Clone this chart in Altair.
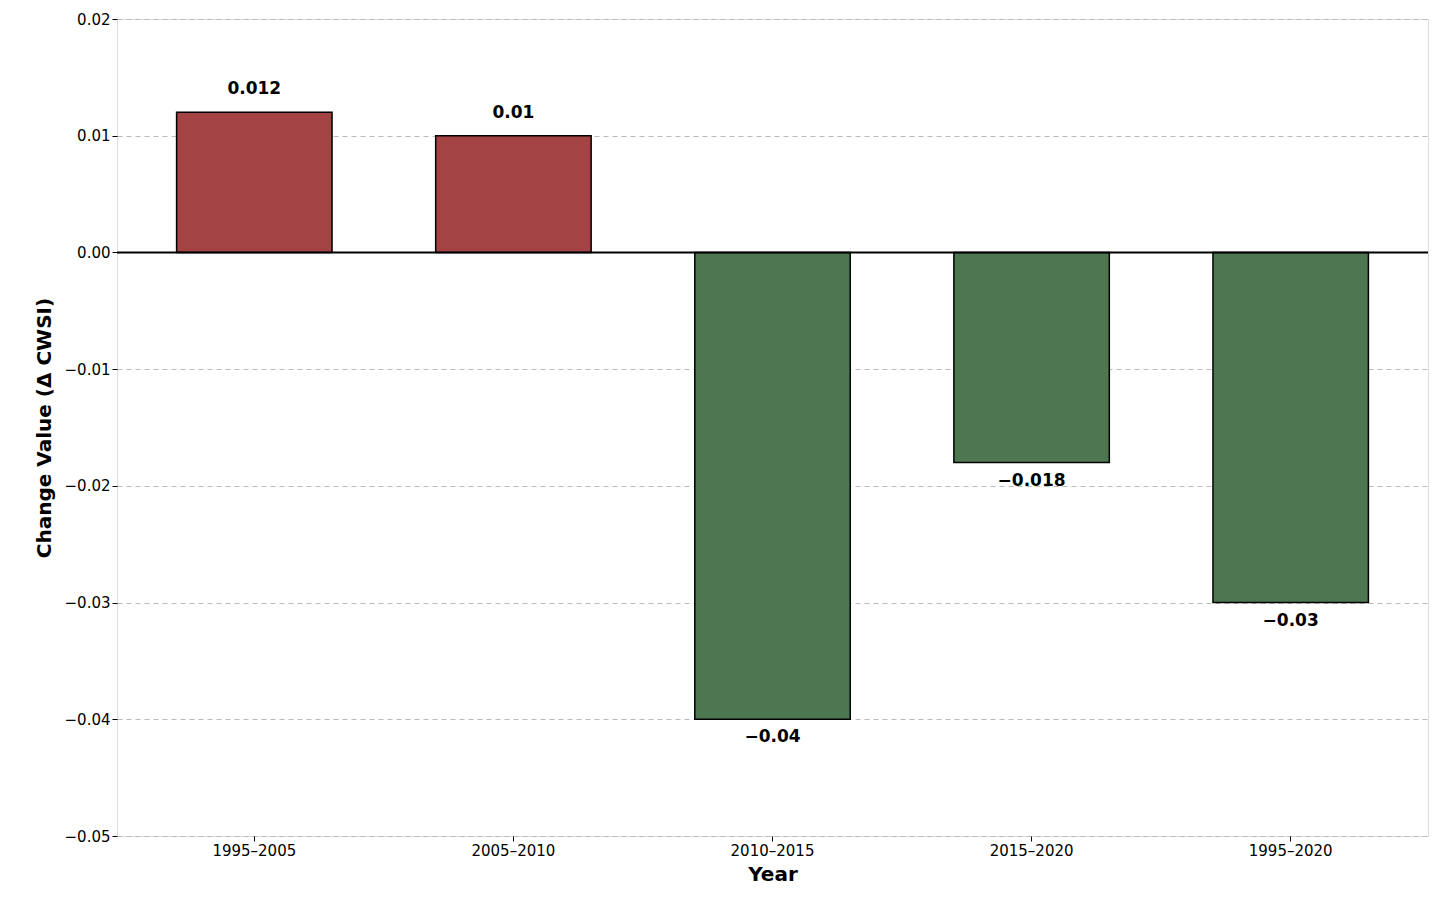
import altair as alt
import pandas as pd

periods = ["1995–2005", "2005–2010", "2010–2015", "2015–2020", "1995–2020"]
changes = [0.012, 0.01, -0.04, -0.018, -0.03]
labels = ["0.012", "0.01", "−0.04", "−0.018", "−0.03"]

df = pd.DataFrame({"Period": periods, "Change": changes, "Label": labels})
df["Sign"] = ["pos" if v > 0 else "neg" for v in changes]

x_enc = alt.X("Period:N", sort=periods, title="Year",
              scale=alt.Scale(paddingInner=0.4, paddingOuter=0.23),
              axis=alt.Axis(labelAngle=0, labelFontSize=15, titleFontSize=20,
                            titleFontWeight="bold", labelColor="black", titleColor="black",
                            tickColor="black", domain=False, titlePadding=6))

bars = alt.Chart(df).mark_bar(stroke="black", strokeWidth=1.5).encode(
    x=x_enc,
    y=alt.Y("Change:Q", title="Change Value (Δ CWSI)",
            scale=alt.Scale(domain=[-0.05, 0.02], nice=False),
            axis=alt.Axis(values=[-0.05, -0.04, -0.03, -0.02, -0.01, 0, 0.01, 0.02],
                          labelExpr="replace(format(datum.value, '.2f'), '-', '−')",
                          labelFontSize=15, titleFontSize=20, titleFontWeight="bold",
                          labelColor="black", titleColor="black", tickColor="black",
                          grid=True, gridDash=[5, 4], gridColor="#bbbbbb",
                          domain=False, titlePadding=10)),
    color=alt.Color("Sign:N", scale=alt.Scale(domain=["pos", "neg"],
                                              range=["#a44343", "#4c7750"]), legend=None),
)

zero = alt.Chart(pd.DataFrame({"y": [0]})).mark_rule(color="black", strokeWidth=2).encode(y="y:Q")

pos_text = alt.Chart(df).transform_filter("datum.Change > 0").mark_text(
    dy=-14, fontSize=17, fontWeight="bold", color="black", baseline="bottom"
).encode(x=alt.X("Period:N", sort=periods), y="Change:Q", text="Label:N")

neg_text = alt.Chart(df).transform_filter("datum.Change < 0").mark_text(
    dy=10, fontSize=17, fontWeight="bold", color="black", baseline="top"
).encode(x=alt.X("Period:N", sort=periods), y="Change:Q", text="Label:N")

chart = alt.layer(bars, zero, pos_text, neg_text).properties(
    width=1311, height=817,
    autosize=alt.AutoSizeParams(type="none"),
    padding={"left": 109, "top": 11, "right": 5, "bottom": 60},
).configure_view(stroke="black", strokeWidth=2).configure(font="DejaVu Sans")

chart.save("out.html", embed_options={"renderer": "svg", "actions": False})
